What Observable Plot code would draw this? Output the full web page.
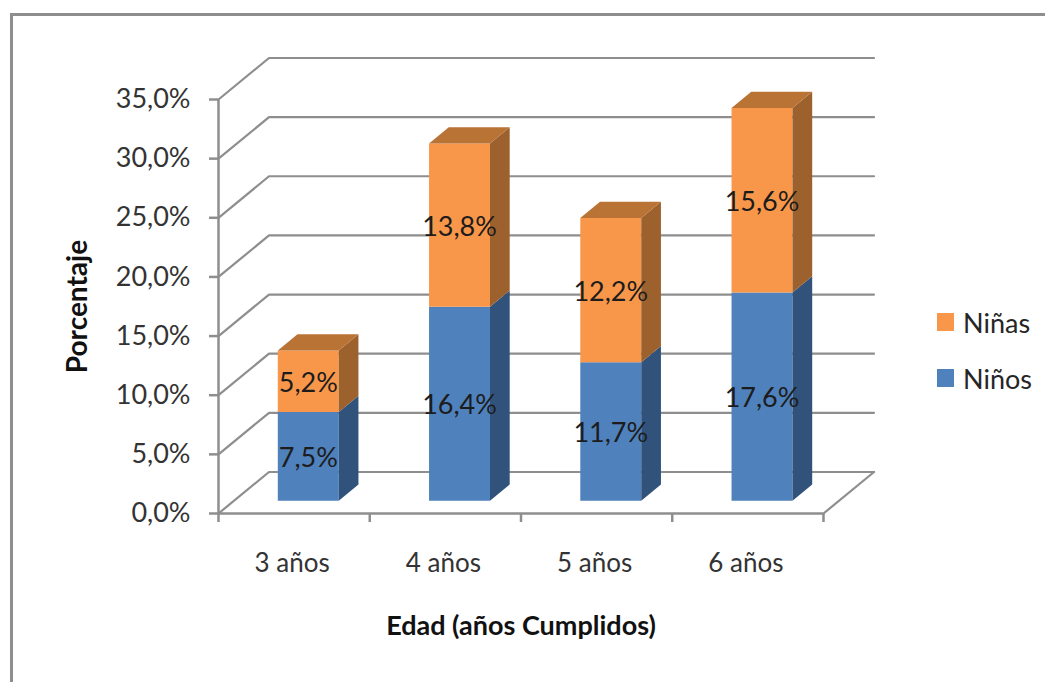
<!DOCTYPE html>
<html lang="es">
<head>
<meta charset="utf-8">
<script src="https://cdn.jsdelivr.net/npm/d3@7"></script>
<script src="https://cdn.jsdelivr.net/npm/@observablehq/plot@0.6"></script>
<style>
  html, body { margin: 0; padding: 0; background: #fff; overflow: hidden; }
  #page { position: relative; width: 1045px; height: 682px; overflow: hidden; font-family: Lato, sans-serif; }
  #page svg { position: absolute; left: 0; top: 0; }
  #border { position: absolute; left: 10px; top: 13px; width: 1100px; height: 800px; border: 3px solid #8e8e8e; box-sizing: border-box; }
  .key { position: absolute; left: 937px; display: flex; align-items: center; font-size: 27px; color: #262626; line-height: 1; }
  .key i { display: block; width: 17px; height: 18px; margin-right: 9px; }
</style>
</head>
<body>
<div id="page"><div id="border"></div></div>
<script>
// Porcentaje por edad y sexo
const ages = ["3 años", "4 años", "5 años", "6 años"];
const boys = [7.5, 16.4, 11.7, 17.6];
const girls = [5.2, 13.8, 12.2, 15.6];
const yTicks = [0, 5, 10, 15, 20, 25, 30, 35];

const palette = {
  Niños: {front: "#4f81bd", side: "#31527b", top: "#3f6797"},
  Niñas: {front: "#f8974a", side: "#9d612e", top: "#b97335"}
};

// Oblique depth of the box, in axis units: one full depth unit moves
// a point along the floor towards the back wall.
const depthX = 0.334;
const depthY = 3.51;
const barNear = 0.31;
const barFar = 0.70;
const barLeft = 0.2885;
const barRight = 0.6915;
const project = (x, y, d) => ({x: x + d * depthX, y: y + d * depthY});

// One polygon per visible face of each stacked segment
const faces = [];
const labels = [];
function addSegment(i, series, low, value, withTop) {
  const high = low + value;
  const c = palette[series];
  const l = i + barLeft, r = i + barRight;
  const poly = (name, fill, pts) =>
    pts.forEach((p) => faces.push({...p, id: `${series}-${i}-${name}`, fill}));
  poly("front", c.front, [
    project(l, low, barNear), project(r, low, barNear),
    project(r, high, barNear), project(l, high, barNear)
  ]);
  poly("side", c.side, [
    project(r, low, barNear), project(r, low, barFar),
    project(r, high, barFar), project(r, high, barNear)
  ]);
  if (withTop) poly("top", c.top, [
    project(l, high, barNear), project(r, high, barNear),
    project(r, high, barFar), project(l, high, barFar)
  ]);
  const mid = project(i + (barLeft + barRight) / 2, low + value / 2, barNear);
  labels.push({...mid, text: value.toFixed(1).replace(".", ",") + "%"});
}
ages.forEach((_, i) => {
  addSegment(i, "Niños", 0, boys[i], false);
  addSegment(i, "Niñas", boys[i], girls[i], true);
});

// Wall and floor lines: each runs from the front axis to the back wall and across it
const wallLines = yTicks.flatMap((v) => [
  {...project(0, v, 0), id: v},
  {...project(0, v, 1), id: v},
  {...project(4, v, 1), id: v}
]);
const floorEdge = [project(4, 0, 1), project(4, 0, 0)];
const categoryLabels = ages.map((text, i) => ({text, x: i + 0.5, y: 0}));

const gray = "#8e8e8e";
const chart = Plot.plot({
  width: 1045,
  height: 682,
  marginLeft: 218,
  marginRight: 222,
  marginTop: 99,
  marginBottom: 169,
  style: {background: "transparent", fontFamily: "Lato, sans-serif"},
  x: {type: "linear", domain: [0, 4]},
  y: {type: "linear", domain: [0, 35]},
  color: {type: "identity"},
  marks: [
    Plot.line(wallLines, {x: "x", y: "y", z: "id", stroke: gray, strokeWidth: 2.2}),
    Plot.line(floorEdge, {x: "x", y: "y", stroke: gray, strokeWidth: 2.2}),
    Plot.ruleX([0], {y1: () => 0, y2: () => 35, stroke: gray, strokeWidth: 2.5}),
    Plot.ruleY([0], {stroke: gray, strokeWidth: 2.5}),
    Plot.axisY({
      ticks: yTicks,
      tickSize: 9,
      tickPadding: 19,
      tickFormat: (v) => v.toFixed(1).replace(".", ",") + "%",
      label: null,
      fontSize: 27,
      color: "#333",
      stroke: gray,
      strokeWidth: 2.5,
      textStroke: "none"
    }),
    Plot.axisX({
      ticks: [0, 1, 2, 3, 4],
      tickSize: 9,
      tickFormat: () => "",
      label: null,
      stroke: gray,
      strokeWidth: 2.5
    }),
    Plot.text(categoryLabels, {
      x: "x",
      y: "y",
      text: "text",
      dy: 50,
      dx: -2,
      fontSize: 26,
      fill: "#333"
    }),
    Plot.line(faces, {x: "x", y: "y", z: "id", fill: "fill", stroke: "none"}),
    Plot.text(labels, {x: "x", y: "y", text: "text", dy: 2, fontSize: 27, fill: "#1c1c1c"}),
    Plot.text(["Porcentaje"], {
      frameAnchor: "left",
      textAnchor: "middle",
      lineAnchor: "middle",
      text: (d) => d,
      rotate: -90,
      dx: -140,
      fontSize: 28,
      fontWeight: 700,
      fill: "#111"
    }),
    Plot.text(["Edad (años Cumplidos)"], {
      frameAnchor: "bottom",
      lineAnchor: "middle",
      text: (d) => d,
      dy: 113,
      fontSize: 27,
      fontWeight: 700,
      fill: "#111"
    })
  ]
});

const page = document.getElementById("page");
page.appendChild(chart);

// Legend, Niñas listed first as in the stacking order
[["Niñas", 322], ["Niños", 378]].forEach(([name, cy]) => {
  const key = document.createElement("div");
  key.className = "key";
  key.style.top = (cy - 13) + "px";
  key.style.height = "26px";
  key.innerHTML = `<i style="background:${palette[name].front}"></i>${name}`;
  page.appendChild(key);
});
</script>
</body>
</html>
